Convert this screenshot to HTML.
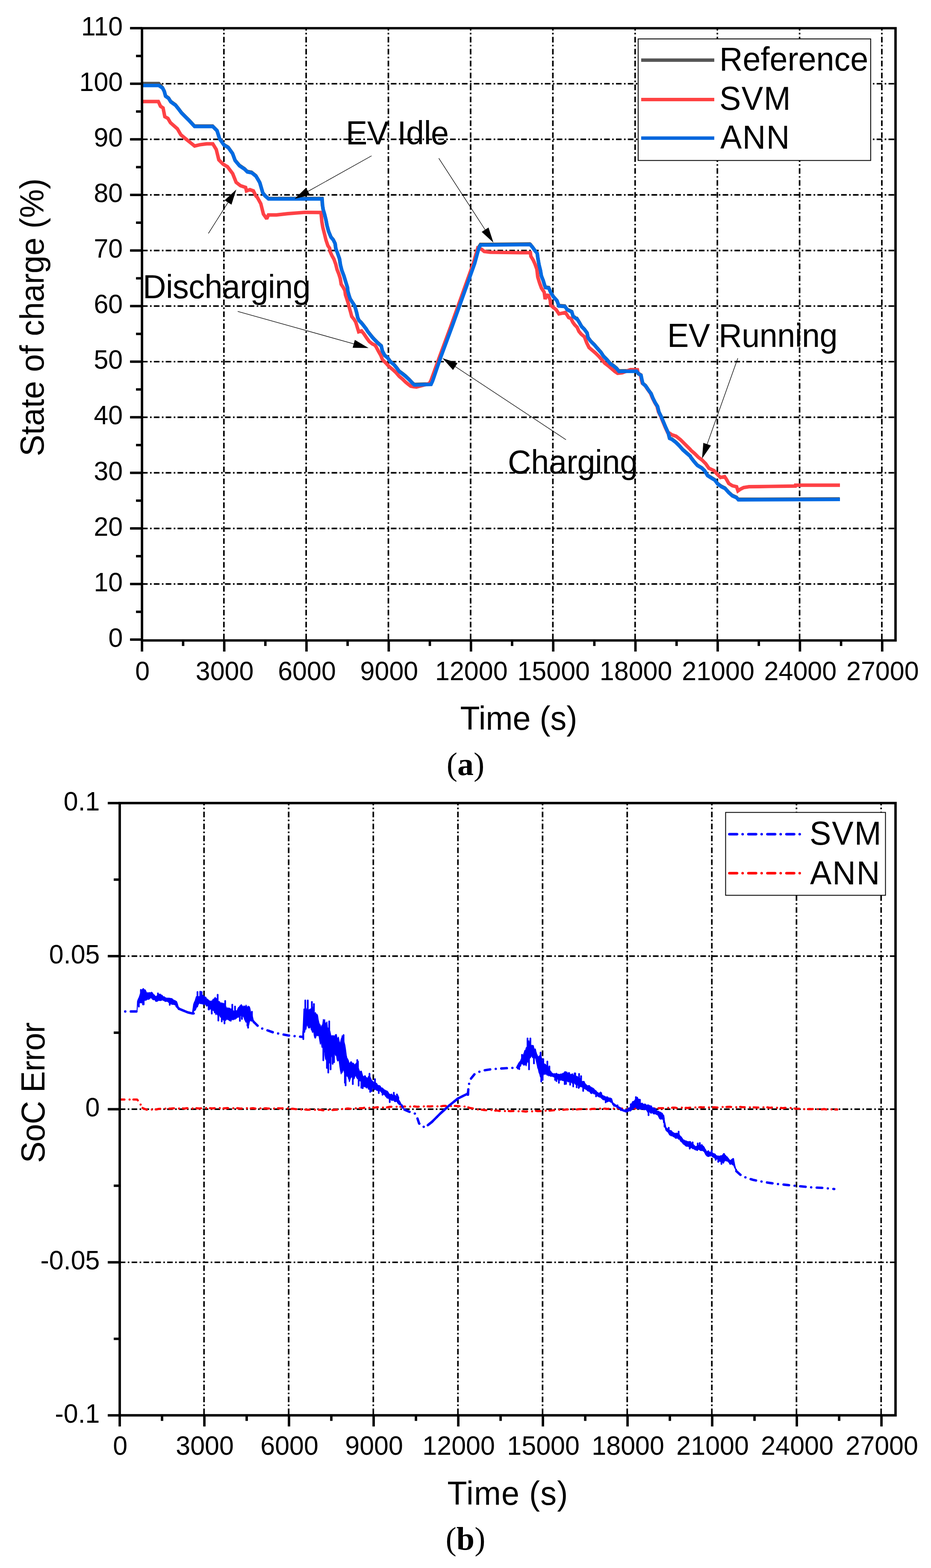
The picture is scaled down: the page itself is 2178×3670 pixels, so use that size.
<!DOCTYPE html>
<html><head><meta charset="utf-8"><title>SoC estimation</title>
<style>html,body{margin:0;padding:0;background:#fff;}svg{display:block;}</style>
</head><body>
<svg width="2178" height="3670" viewBox="0 0 2178 3670">
<rect width="2178" height="3670" fill="#fff"/>
<g stroke="#000" stroke-width="3.7" stroke-dasharray="13.2 5.6 3.7 5.22" fill="none"><line x1="332.2" y1="1366.9" x2="2095.0" y2="1366.9"/><line x1="332.2" y1="1236.8" x2="2095.0" y2="1236.8"/><line x1="332.2" y1="1106.7" x2="2095.0" y2="1106.7"/><line x1="332.2" y1="976.6" x2="2095.0" y2="976.6"/><line x1="332.2" y1="846.5" x2="2095.0" y2="846.5"/><line x1="332.2" y1="716.4" x2="2095.0" y2="716.4"/><line x1="332.2" y1="586.3" x2="2095.0" y2="586.3"/><line x1="332.2" y1="456.2" x2="2095.0" y2="456.2"/><line x1="332.2" y1="326.1" x2="2095.0" y2="326.1"/><line x1="332.2" y1="196.0" x2="2095.0" y2="196.0"/></g>
<g stroke="#000" stroke-width="3.7" stroke-dasharray="13.3 5.65 3.7 5.29" fill="none"><line x1="523.8" y1="1496.5" x2="523.8" y2="66.0"/><line x1="716.2" y1="1496.5" x2="716.2" y2="66.0"/><line x1="908.6" y1="1496.5" x2="908.6" y2="66.0"/><line x1="1101.0" y1="1496.5" x2="1101.0" y2="66.0"/><line x1="1293.4" y1="1496.5" x2="1293.4" y2="66.0"/><line x1="1485.8" y1="1496.5" x2="1485.8" y2="66.0"/><line x1="1678.2" y1="1496.5" x2="1678.2" y2="66.0"/><line x1="1870.6" y1="1496.5" x2="1870.6" y2="66.0"/><line x1="2063.0" y1="1496.5" x2="2063.0" y2="66.0"/></g>
<g fill="none" stroke-width="8.2" stroke-linejoin="miter" stroke-miterlimit="2" stroke-linecap="butt">
<polyline points="332.0,195.5 371.4,195.5 380.0,205.1 384.1,213.2 387.1,224.3 394.2,229.3 399.2,237.4 410.4,245.5 418.4,255.6 424.5,263.7 434.6,273.8 442.7,281.9 454.8,295.0 497.3,295.0 507.4,305.1 513.5,324.3 523.6,338.5 533.7,344.6 543.8,358.7 549.8,374.9 559.9,387.0 572.1,395.1 578.1,401.2 588.2,403.2 598.4,411.3 604.4,421.4 607.6,427.1 614.5,450.8 619.7,457.4 627.8,464.5 753.1,464.5 754.1,478.8 755.7,489.6 758.9,500.4 762.1,513.3 764.8,527.3 768.6,541.3 774.0,554.3 779.4,560.7 783.7,569.4 785.3,581.2 789.1,590.9 793.9,604.9 796.1,619.0 799.3,631.9 804.2,644.8 808.5,658.9 812.8,672.9 813.0,678.9 815.7,689.0 819.0,699.1 823.8,706.5 829.1,714.6 831.8,722.7 834.5,732.8 836.6,742.9 839.9,749.7 845.3,755.1 850.7,761.8 856.8,769.9 860.1,775.3 865.5,782.0 870.9,788.8 877.0,795.5 883.7,802.2 891.6,808.9 894.3,821.0 899.7,831.1 906.5,836.5 913.2,846.0 921.3,852.7 928.0,860.8 933.4,868.2 941.5,874.3 948.2,879.7 957.0,887.8 964.4,895.8 969.1,899.9 1007.9,898.5 1011.5,890.8 1029.7,837.5 1058.0,760.8 1086.3,681.8 1109.9,615.8 1120.0,578.8 1124.2,572.2 1142.4,572.2 1239.4,571.1 1240.3,571.7 1245.7,578.2 1251.1,585.8 1256.5,592.2 1258.1,604.1 1260.8,619.2 1264.0,632.1 1266.2,645.1 1270.5,655.8 1273.7,666.6 1275.9,672.0 1283.4,673.1 1287.7,682.8 1294.2,693.6 1302.8,703.3 1307.1,715.1 1321.1,716.2 1326.5,723.8 1337.3,729.2 1340.6,739.9 1348.1,745.3 1349.5,745.3 1354.9,753.9 1360.3,763.6 1366.8,770.1 1373.2,778.7 1375.4,789.5 1381.8,798.1 1390.5,806.7 1396.9,814.3 1405.6,824.0 1412.0,833.7 1419.6,841.2 1427.1,849.9 1435.8,856.3 1442.2,861.7 1447.6,868.2 1488.6,867.6 1493.8,874.2 1499.2,877.4 1501.4,888.2 1503.5,896.8 1510.0,902.2 1516.5,911.9 1522.9,920.6 1527.2,931.3 1532.6,942.1 1538.0,950.7 1541.3,963.7 1546.6,974.5 1552.0,987.4 1557.4,1000.3 1562.8,1012.2 1566.1,1025.1 1571.4,1027.3 1581.1,1034.8 1588.7,1042.4 1597.3,1052.1 1605.9,1059.6 1614.6,1067.2 1616.0,1070.1 1623.5,1079.8 1631.1,1088.4 1641.8,1094.9 1648.3,1101.3 1654.8,1112.1 1663.4,1117.5 1672.0,1122.9 1678.5,1131.5 1687.1,1138.0 1695.8,1142.3 1704.4,1152.0 1713.0,1159.6 1722.7,1163.9 1727.0,1168.7 1964.5,1167.8" stroke="#515151"/>
<polyline points="332.0,237.6 370.4,237.6 375.5,248.7 381.5,252.8 385.6,273.0 392.7,277.0 398.7,287.1 414.9,301.3 423.0,315.4 435.1,325.5 445.2,333.6 455.3,341.7 467.5,338.7 483.6,336.7 497.8,336.7 505.9,349.8 511.9,374.1 522.0,384.2 532.1,390.2 544.3,406.4 552.4,426.6 562.5,434.7 574.6,438.7 576.6,446.8 584.7,443.8 592.8,446.8 598.9,459.0 602.0,462.0 610.1,476.8 616.2,501.1 624.0,512.0 628.0,503.0 646.5,503.1 672.8,500.1 713.2,497.0 750.8,497.3 751.9,508.0 752.9,518.8 755.1,531.8 758.9,546.8 762.6,561.9 767.0,574.9 771.3,581.3 772.3,588.9 776.7,598.6 781.0,606.1 785.3,618.0 788.5,630.9 792.8,641.7 796.1,652.5 798.2,665.4 802.5,671.9 806.8,680.0 808.1,690.2 811.5,700.3 814.8,710.4 817.5,721.2 820.2,730.6 822.9,740.8 828.3,747.5 832.3,754.2 836.4,767.7 839.1,776.5 845.8,774.4 851.2,781.2 858.0,791.3 864.0,799.4 870.8,804.8 877.5,808.1 880.0,812.1 885.4,822.2 890.8,831.7 894.8,841.8 901.6,848.5 909.6,857.3 917.7,864.0 925.8,871.4 933.9,880.9 942.0,887.6 948.7,894.3 955.5,899.7 960.9,903.8 967.6,905.1 974.3,905.8 1004.4,897.7 1008.5,890.0 1027.0,838.7 1055.3,762.0 1083.6,683.0 1107.2,617.0 1117.5,581.0 1120.6,582.4 1126.7,583.5 1132.8,588.5 1146.9,590.5 1217.7,591.5 1240.8,591.3 1241.9,599.9 1247.3,608.5 1251.6,618.2 1255.9,630.1 1258.0,648.4 1262.3,662.4 1266.7,674.3 1273.1,684.0 1275.3,700.2 1278.5,690.5 1282.8,691.5 1287.1,702.3 1288.2,714.2 1294.7,719.6 1301.2,725.0 1307.6,734.7 1322.7,731.4 1327.0,737.9 1330.3,743.3 1335.7,745.4 1340.0,754.1 1344.3,760.0 1350.0,765.9 1354.3,775.6 1359.7,782.0 1367.3,788.5 1372.6,802.5 1378.0,813.3 1385.6,819.8 1393.1,826.3 1400.7,833.8 1408.2,842.4 1414.7,850.0 1423.3,856.4 1431.9,864.0 1438.4,869.4 1444.9,873.7 1455.7,872.6 1475.1,865.1 1491.2,865.6 1492.8,874.2 1498.2,877.4 1500.4,888.2 1502.5,896.8 1509.0,902.2 1515.5,911.9 1521.9,920.6 1526.2,931.3 1531.6,942.1 1537.0,950.7 1540.3,963.7 1545.6,974.5 1551.0,987.4 1556.4,1000.3 1561.8,1012.2 1565.5,1013.4 1571.9,1017.7 1581.6,1021.0 1592.4,1029.6 1603.2,1040.3 1614.0,1051.1 1616.5,1054.0 1625.1,1061.6 1633.7,1070.2 1642.3,1076.7 1651.0,1085.3 1658.5,1096.1 1670.4,1101.5 1676.8,1109.0 1685.5,1117.6 1695.2,1115.5 1699.5,1121.9 1704.9,1131.6 1713.5,1137.0 1723.2,1139.2 1726.4,1148.9 1731.8,1145.1 1739.4,1141.3 1752.3,1139.2 1800.0,1138.5 1860.5,1137.7 1861.0,1135.6 1965.0,1135.6" stroke="#FE4145"/>
<polyline points="332.0,200.2 371.4,200.2 380.5,206.3 384.6,214.4 387.6,225.5 394.7,230.5 399.7,238.6 410.9,246.7 418.9,256.8 425.0,264.9 435.1,275.0 443.2,283.1 455.3,296.2 497.8,296.2 507.9,306.3 514.0,325.5 524.1,339.7 534.2,345.8 544.3,359.9 550.3,376.1 560.4,388.2 572.6,396.3 578.6,402.4 588.7,404.4 598.9,412.5 604.9,422.6 608.1,428.3 615.0,452.0 620.2,458.6 628.3,465.7 753.6,465.7 754.6,480.0 756.2,490.8 759.4,501.6 762.6,514.5 765.3,528.5 769.1,542.5 774.5,555.5 779.9,561.9 784.2,570.6 785.8,582.4 789.6,592.1 794.4,606.1 796.6,620.2 799.8,633.1 804.7,646.0 809.0,660.1 813.3,674.1 813.5,680.1 816.2,690.2 819.5,700.3 824.3,707.7 829.6,715.8 832.3,723.9 835.0,734.0 837.1,744.1 840.4,750.9 845.8,756.3 851.2,763.0 857.3,771.1 860.6,776.5 866.0,783.2 871.4,790.0 877.5,796.7 884.2,803.4 892.1,810.1 894.8,822.2 900.2,832.3 907.0,837.7 913.7,847.2 921.8,853.9 928.5,862.0 933.9,869.4 942.0,875.5 948.7,880.9 957.5,889.0 964.9,897.0 969.6,901.1 1008.4,899.7 1012.0,892.0 1030.2,838.7 1058.5,762.0 1086.8,683.0 1110.4,617.0 1120.5,580.0 1124.7,573.4 1142.9,573.4 1239.9,572.3 1240.8,572.9 1246.2,579.4 1251.6,587.0 1257.0,593.4 1258.6,605.3 1261.3,620.4 1264.5,633.3 1266.7,646.3 1271.0,657.0 1274.2,667.8 1276.4,673.2 1283.9,674.3 1288.2,684.0 1294.7,694.8 1303.3,704.5 1307.6,716.3 1321.6,717.4 1327.0,725.0 1337.8,730.4 1341.1,741.1 1348.6,746.5 1350.0,746.5 1355.4,755.1 1360.8,764.8 1367.3,771.3 1373.7,779.9 1375.9,790.7 1382.3,799.3 1391.0,807.9 1397.4,815.5 1406.1,825.2 1412.5,834.9 1420.1,842.4 1427.6,851.1 1436.3,857.5 1442.7,862.9 1448.1,869.4 1489.1,868.8 1494.3,875.4 1499.7,878.6 1501.9,889.4 1504.0,898.0 1510.5,903.4 1517.0,913.1 1523.4,921.8 1527.7,932.5 1533.1,943.3 1538.5,951.9 1541.8,964.9 1547.1,975.7 1552.5,988.6 1557.9,1001.5 1563.3,1013.4 1566.6,1026.3 1571.9,1028.5 1581.6,1036.0 1589.2,1043.6 1597.8,1053.3 1606.4,1060.8 1615.1,1068.4 1616.5,1071.3 1624.0,1081.0 1631.6,1089.6 1642.3,1096.1 1648.8,1102.5 1655.3,1113.3 1663.9,1118.7 1672.5,1124.1 1679.0,1132.7 1687.6,1139.2 1696.3,1143.5 1704.9,1153.2 1713.5,1160.8 1723.2,1165.1 1727.5,1169.9 1965.0,1169.0" stroke="#006BE3"/>
</g>
<rect x="1492.9" y="91.1" width="544" height="284.5" fill="#fff" stroke="#000" stroke-width="2"/>
<g stroke-width="8" fill="none"><line x1="1500" y1="140.8" x2="1671" y2="140.8" stroke="#555555"/><line x1="1500" y1="233" x2="1671" y2="233" stroke="#FF4242"/><line x1="1500" y1="323.3" x2="1671" y2="323.3" stroke="#0066DD"/></g>
<g style="font-family:'Liberation Sans',Arial,sans-serif" fill="#000"><text transform="translate(1683.0,165.4) scale(1,1.04)" font-size="75.5">Reference</text><text letter-spacing="1.5" transform="translate(1683.0,256.9) scale(1,1.04)" font-size="75.5">SVM</text><text letter-spacing="1.5" transform="translate(1685.0,348.3) scale(1,1.04)" font-size="75.5">ANN</text></g>
<g stroke="#000" stroke-width="5.7" fill="none" stroke-linecap="butt"><path d="M332.2,1499.0 L332.2,66.0 L2095.0,66.0 L2095.0,1499.0 Z" stroke-linejoin="miter"/><line x1="304.2" y1="1497.0" x2="332.2" y2="1497.0"/><line x1="304.2" y1="1366.9" x2="332.2" y2="1366.9"/><line x1="304.2" y1="1236.8" x2="332.2" y2="1236.8"/><line x1="304.2" y1="1106.7" x2="332.2" y2="1106.7"/><line x1="304.2" y1="976.6" x2="332.2" y2="976.6"/><line x1="304.2" y1="846.5" x2="332.2" y2="846.5"/><line x1="304.2" y1="716.4" x2="332.2" y2="716.4"/><line x1="304.2" y1="586.3" x2="332.2" y2="586.3"/><line x1="304.2" y1="456.2" x2="332.2" y2="456.2"/><line x1="304.2" y1="326.1" x2="332.2" y2="326.1"/><line x1="304.2" y1="196.0" x2="332.2" y2="196.0"/><line x1="304.2" y1="65.9" x2="332.2" y2="65.9"/><line x1="318.2" y1="1432.0" x2="332.2" y2="1432.0"/><line x1="318.2" y1="1301.8" x2="332.2" y2="1301.8"/><line x1="318.2" y1="1171.8" x2="332.2" y2="1171.8"/><line x1="318.2" y1="1041.7" x2="332.2" y2="1041.7"/><line x1="318.2" y1="911.5" x2="332.2" y2="911.5"/><line x1="318.2" y1="781.5" x2="332.2" y2="781.5"/><line x1="318.2" y1="651.4" x2="332.2" y2="651.4"/><line x1="318.2" y1="521.2" x2="332.2" y2="521.2"/><line x1="318.2" y1="391.2" x2="332.2" y2="391.2"/><line x1="318.2" y1="261.0" x2="332.2" y2="261.0"/><line x1="318.2" y1="131.0" x2="332.2" y2="131.0"/><line x1="332.2" y1="1499.0" x2="332.2" y2="1525.0"/><line x1="524.6" y1="1499.0" x2="524.6" y2="1525.0"/><line x1="717.0" y1="1499.0" x2="717.0" y2="1525.0"/><line x1="909.4" y1="1499.0" x2="909.4" y2="1525.0"/><line x1="1101.8" y1="1499.0" x2="1101.8" y2="1525.0"/><line x1="1294.2" y1="1499.0" x2="1294.2" y2="1525.0"/><line x1="1486.6" y1="1499.0" x2="1486.6" y2="1525.0"/><line x1="1679.0" y1="1499.0" x2="1679.0" y2="1525.0"/><line x1="1871.4" y1="1499.0" x2="1871.4" y2="1525.0"/><line x1="2063.8" y1="1499.0" x2="2063.8" y2="1525.0"/><line x1="428.4" y1="1499.0" x2="428.4" y2="1512.0"/><line x1="620.8" y1="1499.0" x2="620.8" y2="1512.0"/><line x1="813.2" y1="1499.0" x2="813.2" y2="1512.0"/><line x1="1005.6" y1="1499.0" x2="1005.6" y2="1512.0"/><line x1="1198.0" y1="1499.0" x2="1198.0" y2="1512.0"/><line x1="1390.4" y1="1499.0" x2="1390.4" y2="1512.0"/><line x1="1582.8" y1="1499.0" x2="1582.8" y2="1512.0"/><line x1="1775.2" y1="1499.0" x2="1775.2" y2="1512.0"/><line x1="1967.6" y1="1499.0" x2="1967.6" y2="1512.0"/></g>
<g style="font-family:'Liberation Sans',Arial,sans-serif" fill="#000"><text transform="translate(287.3,1513.8) scale(1,1.04)" text-anchor="end" font-size="61">0</text><text transform="translate(287.3,1383.7) scale(1,1.04)" text-anchor="end" font-size="61">10</text><text transform="translate(287.3,1253.6) scale(1,1.04)" text-anchor="end" font-size="61">20</text><text transform="translate(287.3,1123.5) scale(1,1.04)" text-anchor="end" font-size="61">30</text><text transform="translate(287.3,993.4) scale(1,1.04)" text-anchor="end" font-size="61">40</text><text transform="translate(287.3,863.3) scale(1,1.04)" text-anchor="end" font-size="61">50</text><text transform="translate(287.3,733.2) scale(1,1.04)" text-anchor="end" font-size="61">60</text><text transform="translate(287.3,603.1) scale(1,1.04)" text-anchor="end" font-size="61">70</text><text transform="translate(287.3,473.0) scale(1,1.04)" text-anchor="end" font-size="61">80</text><text transform="translate(287.3,342.9) scale(1,1.04)" text-anchor="end" font-size="61">90</text><text transform="translate(287.3,212.8) scale(1,1.04)" text-anchor="end" font-size="61">100</text><text transform="translate(287.3,82.7) scale(1,1.04)" text-anchor="end" font-size="61">110</text><text transform="translate(333.2,1591.5) scale(1,1.04)" text-anchor="middle" font-size="61">0</text><text transform="translate(525.6,1591.5) scale(1,1.04)" text-anchor="middle" font-size="61">3000</text><text transform="translate(718.0,1591.5) scale(1,1.04)" text-anchor="middle" font-size="61">6000</text><text transform="translate(910.4,1591.5) scale(1,1.04)" text-anchor="middle" font-size="61">9000</text><text transform="translate(1102.8,1591.5) scale(1,1.04)" text-anchor="middle" font-size="61">12000</text><text transform="translate(1295.2,1591.5) scale(1,1.04)" text-anchor="middle" font-size="61">15000</text><text transform="translate(1487.6,1591.5) scale(1,1.04)" text-anchor="middle" font-size="61">18000</text><text transform="translate(1680.0,1591.5) scale(1,1.04)" text-anchor="middle" font-size="61">21000</text><text transform="translate(1872.4,1591.5) scale(1,1.04)" text-anchor="middle" font-size="61">24000</text><text transform="translate(2064.8,1591.5) scale(1,1.04)" text-anchor="middle" font-size="61">27000</text></g>
<g style="font-family:'Liberation Sans',Arial,sans-serif" fill="#000"><text letter-spacing="-0.4" transform="translate(809.0,338.2) scale(1,1.04)" font-size="75.5">EV Idle</text><text letter-spacing="-0.6" transform="translate(334.0,698.0) scale(1,1.04)" font-size="75.5">Discharging</text><text letter-spacing="-0.3" transform="translate(1188.0,1108.0) scale(1,1.04)" font-size="75.5">Charging</text><text letter-spacing="-0.5" transform="translate(1561.0,812.1) scale(1,1.04)" font-size="75.5">EV Running</text></g>
<g><line x1="869.2" y1="364.8" x2="717.0" y2="449.9" stroke="#000" stroke-width="1.3"/><polygon points="689.1,465.5 715.9,439.6 725.2,456.2" fill="#000"/><line x1="1026.5" y1="370.3" x2="1137.0" y2="541.0" stroke="#000" stroke-width="1.3"/><polygon points="1154.4,567.9 1126.9,542.8 1142.8,532.5" fill="#000"/><line x1="487.5" y1="546.3" x2="535.7" y2="470.4" stroke="#000" stroke-width="1.3"/><polygon points="552.8,443.4 541.5,478.9 525.5,468.7" fill="#000"/><line x1="556.1" y1="728.8" x2="831.4" y2="805.9" stroke="#000" stroke-width="1.3"/><polygon points="862.2,814.5 825.0,813.9 830.1,795.6" fill="#000"/><line x1="1324.1" y1="1029.2" x2="1061.7" y2="855.8" stroke="#000" stroke-width="1.3"/><polygon points="1035.0,838.2 1070.3,850.1 1059.8,866.0" fill="#000"/><line x1="1726.0" y1="838.5" x2="1653.0" y2="1043.4" stroke="#000" stroke-width="1.3"/><polygon points="1642.3,1073.5 1645.4,1036.4 1663.3,1042.8" fill="#000"/></g>
<g style="font-family:'Liberation Sans',Arial,sans-serif" fill="#000"><text transform="translate(102.3,1068.0) rotate(-90) scale(1,1.04)" font-size="75.5">State of charge (%)</text></g>
<g style="font-family:'Liberation Sans',Arial,sans-serif" fill="#000"><text transform="translate(1213.5,1708.2) scale(1,1.04)" text-anchor="middle" font-size="75.5">Time (s)</text></g>
<text x="1089" y="1813.5" text-anchor="middle" style="font-family:'Liberation Serif','Times New Roman',serif;font-size:76px" fill="#000">(<tspan font-weight="bold">a</tspan>)</text>
<g stroke="#000" stroke-width="3.7" stroke-dasharray="13.2 5.6 3.7 5.22" fill="none"><line x1="280.1" y1="2237.9" x2="2095.0" y2="2237.9"/><line x1="280.1" y1="2596.2" x2="2095.0" y2="2596.2"/><line x1="280.1" y1="2954.5" x2="2095.0" y2="2954.5"/></g>
<g stroke="#000" stroke-width="3.7" stroke-dasharray="13.3 5.65 3.7 5.29" fill="none"><line x1="477.3" y1="3310.0" x2="477.3" y2="1879.7"/><line x1="675.3" y1="3310.0" x2="675.3" y2="1879.7"/><line x1="873.3" y1="3310.0" x2="873.3" y2="1879.7"/><line x1="1071.3" y1="3310.0" x2="1071.3" y2="1879.7"/><line x1="1269.3" y1="3310.0" x2="1269.3" y2="1879.7"/><line x1="1467.3" y1="3310.0" x2="1467.3" y2="1879.7"/><line x1="1665.3" y1="3310.0" x2="1665.3" y2="1879.7"/><line x1="1863.3" y1="3310.0" x2="1863.3" y2="1879.7"/><line x1="2061.3" y1="3310.0" x2="2061.3" y2="1879.7"/></g>
<g fill="none" stroke-width="5" stroke-linecap="round" stroke-linejoin="round" stroke-dasharray="11 12 0.01 9">
<polyline points="280.1,2573.6 320.5,2573.6 323.9,2577.0 334.0,2593.8 347.5,2598.8 353.5,2597.3 359.5,2596.5 365.5,2596.8 371.0,2595.5 377.0,2595.2 383.0,2594.9 389.0,2594.7 395.0,2594.7 401.0,2594.6 407.0,2594.1 413.0,2595.1 419.0,2594.4 425.0,2594.0 431.0,2594.8 437.0,2593.7 443.0,2593.9 449.0,2594.7 455.0,2593.5 461.0,2593.9 467.0,2594.4 472.0,2593.8 478.0,2594.3 484.0,2593.3 490.0,2593.6 496.0,2594.2 502.0,2593.7 508.0,2594.6 514.0,2593.5 520.0,2594.7 526.0,2594.0 532.0,2593.5 538.0,2593.9 544.0,2593.4 550.0,2594.4 556.0,2593.7 562.0,2594.7 568.0,2594.2 574.0,2593.9 580.0,2593.7 586.0,2594.3 592.0,2593.7 598.0,2594.8 604.0,2593.6 610.0,2594.2 616.0,2594.3 622.0,2593.9 628.0,2594.7 634.0,2594.1 640.0,2594.6 646.0,2594.4 652.0,2594.0 658.0,2594.2 664.0,2593.7 670.0,2593.9 674.0,2594.4 680.0,2595.4 686.0,2595.1 692.0,2596.1 698.0,2595.7 704.0,2596.9 708.0,2597.1 714.0,2597.0 720.0,2597.4 726.0,2597.3 732.0,2597.1 738.0,2597.6 744.0,2597.6 750.0,2597.6 756.0,2598.7 760.0,2598.5 766.0,2597.8 772.0,2597.6 778.0,2598.1 784.0,2597.5 790.0,2597.3 796.0,2596.9 802.0,2595.4 808.0,2595.2 814.0,2594.5 820.0,2595.2 826.0,2594.8 832.0,2593.9 838.0,2593.6 844.0,2593.7 850.0,2593.4 851.0,2593.0 857.0,2592.4 863.0,2593.2 869.0,2592.3 875.0,2592.6 881.0,2591.7 887.0,2591.5 893.0,2592.6 899.0,2592.1 905.0,2592.0 911.0,2590.7 917.0,2590.6 923.0,2590.6 929.0,2590.5 935.0,2590.5 941.0,2590.5 947.0,2589.8 952.0,2590.4 958.0,2590.0 964.0,2590.4 970.0,2589.6 976.0,2590.5 982.0,2590.0 988.0,2590.1 994.0,2589.3 1000.0,2589.5 1006.0,2589.8 1012.0,2589.1 1018.0,2588.5 1024.0,2589.7 1030.0,2589.5 1036.0,2588.6 1042.0,2588.2 1048.0,2589.4 1053.0,2588.7 1059.0,2589.1 1065.0,2588.4 1071.0,2589.0 1077.0,2589.0 1083.0,2590.3 1087.0,2590.0 1093.0,2590.8 1099.0,2593.2 1105.0,2594.3 1111.0,2594.5 1117.0,2596.8 1120.0,2597.1 1126.0,2597.2 1132.0,2598.1 1138.0,2598.5 1144.0,2597.9 1150.0,2597.9 1156.0,2599.6 1162.0,2599.1 1168.0,2600.2 1174.0,2600.1 1180.0,2600.5 1186.0,2600.9 1188.0,2600.5 1194.0,2600.8 1200.0,2600.6 1206.0,2600.0 1212.0,2601.1 1218.0,2600.8 1224.0,2601.0 1230.0,2601.8 1236.0,2600.6 1240.0,2601.2 1246.0,2601.3 1252.0,2599.9 1258.0,2600.7 1264.0,2600.6 1270.0,2599.4 1276.0,2599.6 1282.0,2600.0 1288.0,2599.2 1294.0,2598.8 1300.0,2598.0 1306.0,2597.4 1312.0,2597.6 1318.0,2597.5 1324.0,2596.8 1330.0,2596.7 1331.0,2597.0 1337.0,2596.3 1343.0,2597.0 1349.0,2596.8 1355.0,2596.0 1361.0,2595.9 1367.0,2596.2 1373.0,2595.9 1379.0,2596.6 1385.0,2595.5 1391.0,2595.3 1397.0,2596.0 1403.0,2594.7 1409.0,2595.2 1415.0,2594.7 1421.0,2595.4 1427.0,2594.8 1432.0,2594.6 1438.0,2595.0 1444.0,2594.0 1450.0,2594.8 1456.0,2594.7 1462.0,2594.5 1468.0,2595.0 1474.0,2595.0 1480.0,2593.9 1486.0,2594.2 1492.0,2594.3 1498.0,2594.0 1504.0,2593.8 1510.0,2594.1 1516.0,2593.9 1522.0,2594.7 1528.0,2594.3 1533.0,2594.4 1539.0,2593.6 1545.0,2593.8 1551.0,2593.8 1557.0,2593.5 1563.0,2593.0 1567.0,2593.4 1573.0,2592.6 1579.0,2592.4 1585.0,2593.8 1591.0,2593.3 1597.0,2592.1 1603.0,2593.0 1609.0,2593.3 1615.0,2592.5 1621.0,2591.7 1627.0,2592.1 1633.0,2591.9 1639.0,2591.4 1645.0,2591.9 1651.0,2590.9 1654.0,2591.6 1660.0,2592.2 1666.0,2591.8 1672.0,2591.7 1678.0,2592.2 1684.0,2591.7 1690.0,2591.0 1696.0,2591.0 1702.0,2590.8 1708.0,2590.6 1714.0,2591.7 1720.0,2591.8 1726.0,2590.9 1732.0,2590.7 1735.0,2591.2 1741.0,2591.5 1747.0,2591.9 1753.0,2592.1 1759.0,2591.0 1765.0,2592.1 1771.0,2592.3 1777.0,2592.2 1783.0,2591.6 1789.0,2592.0 1795.0,2591.7 1801.0,2592.9 1807.0,2592.2 1813.0,2592.5 1819.0,2592.9 1825.0,2592.8 1831.0,2593.7 1837.0,2592.9 1843.0,2593.5 1849.0,2593.1 1855.0,2594.3 1861.0,2594.7 1867.0,2595.3 1870.0,2595.0 1876.0,2595.5 1882.0,2596.0 1888.0,2596.3 1894.0,2595.7 1900.0,2595.9 1906.0,2595.5 1910.0,2596.2 1916.0,2596.0 1922.0,2596.5 1928.0,2595.8 1934.0,2596.9 1940.0,2596.2 1946.0,2596.7 1952.0,2597.6 1958.0,2596.3 1958.5,2597.0" stroke="#FF0000"/>
</g>
<g fill="none" stroke="#0000FF" stroke-width="5.6" stroke-linecap="round" stroke-linejoin="round" stroke-dasharray="13 13 0.01 13">
<polyline points="280.1,2367.4 320.5,2367.4" stroke-dashoffset="13.1"/>
<polyline points="418.6,2361.0 429.4,2365.5 440.2,2369.8 449.9,2372.0"/>
<polyline points="593.5,2391.6 606.9,2405.1 640.6,2416.9 674.3,2423.6 708.0,2427.0"/>
<polyline points="946.2,2597.2 960.3,2603.3 970.4,2606.3 976.5,2617.5 980.5,2629.6 990.6,2637.7 1000.8,2633.6 1010.9,2625.5 1031.1,2605.3 1051.3,2587.1 1071.5,2571.0 1091.7,2560.9 1094.7,2562.0 1095.8,2546.7 1097.8,2534.6 1101.8,2524.5 1109.9,2514.4 1122.0,2508.3 1132.1,2505.3 1152.4,2502.2 1182.7,2500.2 1208.0,2499.0"/>
<polyline points="1722.6,2741.2 1734.8,2752.0 1748.2,2757.4 1761.7,2761.5 1788.7,2766.8 1815.6,2770.9 1842.6,2773.6 1869.5,2776.3 1896.5,2779.0 1923.5,2780.3 1951.7,2783.0"/>
</g>
<polyline fill="none" stroke="#0000FF" stroke-width="5.6" stroke-linecap="round" stroke-linejoin="round" points="413.2,2355 418.6,2361 429.4,2365.5 440.2,2369.8 449.9,2372 453,2372"/>
<polyline fill="none" stroke="#0000FF" stroke-width="5.6" stroke-linecap="round" stroke-linejoin="round" points="1000.8,2633.6 1010.9,2625.5 1031.1,2605.3 1051.3,2587.1 1071.5,2571 1091.7,2560.9 1094.7,2562 1094.7,2557"/>
<g fill="#0000FF" stroke="#0000FF" stroke-width="2" stroke-linejoin="round">
<polygon points="320.5,2367.4 321.6,2343.9 323.2,2339.0 324.8,2335.9 326.4,2332.0 328.0,2326.5 329.6,2323.9 331.2,2318.0 331.3,2319.1 332.9,2316.1 334.5,2314.0 336.1,2314.1 336.7,2317.0 338.3,2316.3 339.9,2317.2 341.5,2320.4 343.1,2324.0 344.7,2323.9 346.3,2323.2 347.9,2325.2 349.5,2322.7 351.1,2324.5 352.7,2323.4 353.9,2322.3 355.5,2322.9 357.1,2324.5 358.7,2327.7 360.3,2328.1 361.9,2330.1 363.5,2332.0 364.7,2332.6 366.3,2331.9 367.9,2329.8 369.5,2328.0 371.1,2327.0 372.7,2327.6 374.3,2326.8 374.4,2326.4 376.0,2328.1 377.6,2329.0 379.2,2329.5 380.8,2331.7 382.4,2333.0 384.0,2332.9 385.6,2334.2 386.3,2334.6 387.9,2335.9 389.5,2336.4 391.1,2335.7 392.7,2337.3 394.3,2335.9 395.9,2336.1 397.0,2337.2 398.6,2336.5 400.2,2337.4 401.8,2336.9 403.4,2338.6 405.0,2340.1 406.6,2340.7 407.8,2341.8 409.4,2341.8 411.0,2343.0 412.6,2343.9 413.2,2344.2 414.8,2348.9 416.4,2354.3 418.0,2359.2 418.6,2361.0 418.6,2361.0 418.0,2360.0 416.4,2357.4 414.8,2355.9 413.2,2353.3 412.6,2353.6 411.0,2352.9 409.4,2352.3 407.8,2351.2 406.6,2350.7 405.0,2350.9 403.4,2350.7 401.8,2350.5 400.2,2349.7 398.6,2348.4 397.0,2349.0 395.9,2347.3 394.3,2346.0 392.7,2344.3 391.1,2343.8 389.5,2343.8 387.9,2343.6 386.3,2344.3 385.6,2342.6 384.0,2342.2 382.4,2341.7 380.8,2340.7 379.2,2340.3 377.6,2341.4 376.0,2341.7 374.4,2341.5 374.3,2342.1 372.7,2341.4 371.1,2341.3 369.5,2342.5 367.9,2343.6 366.3,2343.8 364.7,2343.9 363.5,2342.3 361.9,2339.6 360.3,2339.7 358.7,2340.3 357.1,2338.9 355.5,2337.5 353.9,2334.8 352.7,2335.5 351.1,2336.3 349.5,2338.1 347.9,2338.8 346.3,2339.4 344.7,2337.6 343.1,2340.1 341.5,2341.1 339.9,2341.4 338.3,2340.4 336.7,2344.4 336.1,2344.1 334.5,2344.7 332.9,2345.1 331.3,2347.6 331.2,2344.2 329.6,2346.8 328.0,2347.3 326.4,2346.7 324.8,2348.9 323.2,2352.0 321.6,2353.9 320.5,2367.4"/>
<polygon points="449.9,2372.0 451.5,2360.9 453.0,2350.5 454.6,2346.0 456.2,2343.0 457.8,2337.7 459.4,2332.4 461.0,2333.6 462.0,2332.4 463.6,2331.8 465.2,2333.6 466.8,2331.7 468.4,2332.8 470.0,2333.0 471.6,2330.0 472.0,2328.6 473.6,2329.2 475.2,2329.7 476.8,2332.1 478.4,2332.5 480.0,2334.0 481.6,2334.0 483.2,2337.9 484.8,2338.3 486.4,2339.5 488.0,2341.1 489.0,2343.5 490.6,2342.4 492.2,2344.2 493.8,2343.1 495.4,2342.6 497.0,2342.2 498.6,2338.4 500.2,2338.8 501.8,2337.0 503.4,2334.2 505.0,2339.0 506.0,2336.6 507.6,2339.0 509.2,2343.0 510.8,2344.4 512.4,2343.6 514.0,2345.2 515.6,2346.9 517.2,2350.2 518.8,2346.9 520.4,2349.2 522.0,2348.4 523.6,2348.6 525.2,2353.1 526.8,2354.1 528.4,2355.5 529.0,2357.6 530.6,2360.5 532.2,2359.0 533.8,2359.6 535.4,2359.5 537.0,2359.8 538.6,2361.5 540.2,2361.2 541.8,2361.8 543.4,2362.2 545.0,2365.5 546.6,2366.2 548.2,2367.9 549.8,2369.5 550.0,2366.4 551.6,2365.2 553.2,2366.2 554.8,2365.8 556.4,2361.3 558.0,2358.0 559.6,2357.5 561.2,2354.6 562.8,2353.4 564.4,2351.3 566.0,2353.2 567.6,2355.5 569.2,2357.8 570.8,2354.1 572.4,2355.8 574.0,2356.5 575.6,2352.4 577.2,2356.4 578.8,2359.8 580.4,2354.7 582.0,2358.9 583.0,2355.7 584.6,2359.7 586.2,2368.0 587.8,2372.9 589.4,2374.5 590.0,2376.1 591.6,2383.3 593.2,2390.2 593.5,2391.6 593.5,2391.6 593.2,2391.5 591.6,2390.5 590.0,2390.0 589.4,2390.1 587.8,2390.0 586.2,2388.2 584.6,2388.9 583.0,2393.7 582.0,2399.4 580.4,2395.8 578.8,2392.4 577.2,2389.5 575.6,2392.8 574.0,2389.7 572.4,2386.5 570.8,2381.8 569.2,2378.8 567.6,2375.7 566.0,2374.1 564.4,2375.1 562.8,2377.3 561.2,2375.8 559.6,2378.9 558.0,2380.6 556.4,2381.2 554.8,2380.7 553.2,2383.3 551.6,2384.0 550.0,2384.0 549.8,2386.2 548.2,2383.3 546.6,2386.3 545.0,2387.0 543.4,2385.4 541.8,2386.4 540.2,2390.3 538.6,2388.9 537.0,2389.2 535.4,2387.0 533.8,2387.1 532.2,2385.1 530.6,2385.9 529.0,2384.5 528.4,2388.2 526.8,2388.1 525.2,2388.6 523.6,2388.4 522.0,2386.4 520.4,2385.0 518.8,2382.3 517.2,2380.1 515.6,2380.8 514.0,2376.9 512.4,2372.8 510.8,2375.8 509.2,2376.0 507.6,2373.6 506.0,2371.7 505.0,2375.0 503.4,2368.9 501.8,2370.7 500.2,2364.8 498.6,2365.0 497.0,2364.1 495.4,2366.5 493.8,2362.8 492.2,2361.1 490.6,2361.5 489.0,2358.2 488.0,2355.3 486.4,2354.8 484.8,2353.7 483.2,2355.1 481.6,2352.5 480.0,2349.7 478.4,2349.8 476.8,2351.3 475.2,2351.0 473.6,2348.8 472.0,2346.8 471.6,2349.6 470.0,2349.0 468.4,2348.9 466.8,2346.4 465.2,2349.2 463.6,2351.5 462.0,2356.8 461.0,2355.8 459.4,2358.5 457.8,2362.5 456.2,2365.0 454.6,2365.1 453.0,2367.5 451.5,2370.3 449.9,2372.0"/>
<polygon points="708.0,2427.0 709.6,2394.9 711.0,2361.4 712.6,2367.6 714.2,2367.6 715.8,2369.3 717.4,2362.0 719.0,2358.3 720.0,2356.3 721.6,2363.8 723.2,2364.1 724.8,2362.0 726.4,2362.1 728.0,2360.6 729.6,2357.4 731.2,2356.5 732.8,2365.6 734.4,2364.6 735.0,2372.2 736.6,2370.2 738.2,2370.2 739.8,2374.4 741.4,2373.8 743.0,2376.9 744.6,2387.6 746.2,2394.1 747.8,2398.2 749.4,2399.2 750.0,2403.1 751.6,2404.8 753.2,2399.6 754.8,2398.7 756.4,2386.0 758.0,2389.8 759.6,2386.3 760.0,2390.7 761.6,2396.5 763.2,2395.1 764.8,2391.9 766.4,2408.9 768.0,2406.1 769.6,2413.0 770.2,2413.6 771.8,2413.3 773.4,2420.9 775.0,2429.1 776.6,2423.4 778.2,2426.1 779.8,2423.5 781.4,2425.7 783.0,2425.5 783.7,2423.1 785.3,2421.6 786.9,2421.3 788.5,2430.0 790.1,2430.7 791.7,2427.5 793.3,2435.9 794.9,2443.4 796.5,2439.7 798.1,2432.1 799.7,2428.4 800.5,2424.0 802.1,2431.5 803.7,2433.9 805.3,2440.2 806.9,2446.5 808.5,2457.0 810.1,2469.5 811.7,2476.6 813.3,2478.6 814.9,2482.1 816.5,2487.5 817.4,2489.1 819.0,2488.1 820.6,2484.9 822.2,2485.2 823.8,2491.6 825.4,2487.9 827.0,2489.1 828.6,2490.9 830.2,2494.0 831.8,2490.4 833.4,2488.7 834.2,2487.6 835.8,2491.0 837.4,2494.5 839.0,2501.6 840.6,2506.0 842.2,2509.9 843.8,2507.3 845.4,2507.1 847.0,2512.7 848.6,2518.2 850.2,2520.0 851.1,2521.6 852.7,2517.9 854.3,2517.8 855.9,2521.1 857.5,2522.4 859.1,2523.4 860.7,2524.7 861.2,2520.6 862.8,2518.7 864.4,2518.6 866.0,2521.5 867.6,2524.7 869.2,2528.6 870.8,2530.1 872.4,2531.2 874.0,2532.9 875.6,2533.1 877.2,2534.2 878.0,2532.6 879.6,2535.7 881.2,2535.8 882.8,2539.1 884.4,2540.5 886.0,2540.7 887.6,2540.8 889.2,2541.9 890.8,2544.3 892.4,2546.5 894.0,2546.6 894.9,2546.6 896.5,2548.4 898.1,2550.1 899.7,2551.1 901.3,2551.6 902.9,2553.5 904.5,2553.1 906.1,2554.3 907.7,2556.0 909.3,2559.2 910.9,2560.5 911.7,2562.1 913.3,2561.8 914.9,2561.0 916.5,2560.8 918.1,2563.6 919.7,2564.6 921.3,2564.0 922.9,2562.8 924.5,2564.1 926.1,2565.8 927.7,2566.1 928.6,2565.7 930.2,2569.6 931.8,2573.7 933.4,2575.4 935.0,2577.4 936.6,2580.6 938.2,2583.8 938.7,2584.9 940.3,2587.4 941.9,2590.2 943.5,2592.9 945.1,2595.4 946.2,2597.2 946.2,2597.2 945.1,2595.8 943.5,2593.6 941.9,2591.4 940.3,2589.4 938.7,2587.1 938.2,2587.0 936.6,2585.8 935.0,2585.9 933.4,2584.8 931.8,2583.1 930.2,2581.5 928.6,2577.6 927.7,2578.0 926.1,2578.1 924.5,2578.7 922.9,2578.0 921.3,2574.9 919.7,2575.6 918.1,2575.2 916.5,2575.9 914.9,2573.9 913.3,2572.8 911.7,2574.2 910.9,2573.3 909.3,2571.1 907.7,2569.9 906.1,2570.6 904.5,2568.6 902.9,2566.8 901.3,2564.8 899.7,2562.2 898.1,2561.6 896.5,2559.7 894.9,2558.5 894.0,2557.1 892.4,2557.3 890.8,2554.6 889.2,2553.5 887.6,2553.3 886.0,2553.0 884.4,2552.8 882.8,2552.7 881.2,2552.0 879.6,2550.2 878.0,2549.1 877.2,2550.3 875.6,2551.0 874.0,2549.2 872.4,2546.2 870.8,2542.7 869.2,2543.6 867.6,2544.7 866.0,2548.2 864.4,2547.9 862.8,2550.0 861.2,2548.2 860.7,2545.9 859.1,2544.0 857.5,2546.7 855.9,2545.3 854.3,2541.9 852.7,2543.9 851.1,2543.0 850.2,2540.6 848.6,2536.3 847.0,2533.3 845.4,2531.5 843.8,2530.6 842.2,2529.5 840.6,2529.9 839.0,2524.4 837.4,2525.9 835.8,2524.3 834.2,2522.0 833.4,2519.2 831.8,2516.4 830.2,2519.5 828.6,2524.6 827.0,2526.0 825.4,2524.3 823.8,2518.1 822.2,2521.2 820.6,2521.6 819.0,2526.4 817.4,2531.8 816.5,2527.1 814.9,2523.3 813.3,2518.3 811.7,2519.2 810.1,2512.3 808.5,2509.7 806.9,2515.5 805.3,2509.4 803.7,2501.6 802.1,2505.8 800.5,2510.6 799.7,2504.5 798.1,2513.6 796.5,2505.8 794.9,2495.5 793.3,2482.3 791.7,2481.7 790.1,2483.5 788.5,2479.8 786.9,2468.9 785.3,2470.5 783.7,2465.6 783.0,2462.5 781.4,2470.8 779.8,2473.2 778.2,2477.5 776.6,2472.8 775.0,2471.5 773.4,2477.6 771.8,2487.1 770.2,2488.2 769.6,2479.2 768.0,2485.9 766.4,2473.7 764.8,2482.6 763.2,2481.1 761.6,2479.0 760.0,2469.0 759.6,2463.9 758.0,2459.3 756.4,2455.1 754.8,2450.2 753.2,2451.5 751.6,2439.2 750.0,2438.5 749.4,2443.9 747.8,2434.7 746.2,2424.6 744.6,2423.3 743.0,2424.5 741.4,2422.5 739.8,2424.4 738.2,2429.7 736.6,2429.4 735.0,2423.7 734.4,2418.3 732.8,2410.7 731.2,2416.7 729.6,2412.1 728.0,2409.4 726.4,2401.3 724.8,2405.0 723.2,2406.5 721.6,2405.5 720.0,2401.3 719.0,2398.6 717.4,2399.8 715.8,2409.0 714.2,2408.8 712.6,2416.5 711.0,2415.3 709.6,2416.9 708.0,2427.0"/>
<polygon points="1208.0,2499.0 1209.6,2495.8 1211.2,2492.8 1212.8,2489.5 1214.4,2487.1 1214.7,2486.3 1216.3,2485.0 1217.9,2482.5 1219.5,2478.2 1221.1,2476.8 1221.4,2474.0 1223.0,2471.4 1224.6,2468.1 1226.2,2463.8 1227.8,2458.4 1229.4,2459.3 1230.9,2452.5 1232.5,2450.5 1234.1,2451.8 1235.7,2442.6 1237.3,2435.7 1237.6,2438.1 1239.2,2440.9 1240.8,2444.7 1242.4,2449.1 1244.0,2447.0 1244.3,2446.3 1245.9,2447.3 1247.5,2446.9 1249.1,2453.1 1250.7,2456.5 1252.3,2458.6 1252.4,2455.0 1254.0,2461.8 1255.6,2467.1 1257.2,2470.1 1257.8,2472.9 1259.4,2473.3 1261.0,2472.2 1262.6,2470.6 1264.2,2471.0 1264.6,2468.9 1266.2,2473.8 1267.8,2481.5 1269.4,2486.4 1271.0,2491.2 1271.3,2491.9 1272.9,2489.9 1274.5,2490.9 1276.1,2491.1 1277.7,2493.9 1279.3,2494.1 1280.5,2492.7 1282.1,2496.8 1283.7,2501.9 1285.3,2502.4 1286.9,2506.7 1288.5,2507.5 1290.1,2510.4 1290.6,2511.2 1292.2,2512.0 1293.8,2513.2 1295.4,2513.5 1297.0,2512.7 1298.6,2513.8 1300.2,2512.8 1301.8,2511.9 1303.4,2513.7 1305.0,2513.9 1306.6,2514.3 1307.5,2514.5 1309.1,2515.4 1310.7,2513.7 1312.3,2514.1 1313.9,2513.5 1315.5,2513.8 1317.1,2511.7 1318.7,2511.7 1320.3,2510.7 1321.0,2508.7 1322.6,2508.0 1324.2,2510.0 1325.8,2508.7 1327.4,2512.6 1329.0,2511.3 1330.6,2510.4 1332.2,2510.5 1333.8,2514.9 1335.4,2515.1 1337.0,2514.6 1337.8,2513.7 1339.4,2513.3 1341.0,2516.3 1342.6,2517.9 1344.2,2519.4 1345.8,2520.6 1347.4,2518.3 1349.0,2519.6 1350.6,2519.4 1352.2,2521.7 1353.8,2523.3 1354.7,2524.6 1356.3,2522.9 1357.9,2526.6 1359.5,2529.7 1361.1,2532.4 1362.7,2531.0 1364.3,2531.5 1364.8,2530.9 1366.4,2531.0 1368.0,2534.8 1369.6,2537.4 1371.2,2538.6 1372.8,2540.5 1374.4,2541.4 1376.0,2541.1 1377.6,2540.8 1379.2,2541.1 1380.8,2544.0 1381.6,2543.7 1383.2,2544.8 1384.8,2546.2 1386.4,2546.3 1388.0,2547.5 1389.6,2548.8 1391.2,2551.2 1392.8,2552.1 1394.4,2553.1 1396.0,2555.6 1397.6,2556.5 1398.5,2557.7 1400.1,2558.6 1401.7,2558.1 1403.3,2559.1 1404.9,2560.1 1406.5,2561.9 1408.1,2562.3 1409.7,2563.8 1411.3,2564.7 1412.9,2564.9 1414.5,2566.9 1415.3,2566.2 1416.9,2567.8 1418.5,2567.5 1420.0,2567.1 1421.6,2567.4 1423.2,2569.1 1424.8,2570.8 1426.4,2569.6 1428.0,2570.2 1429.6,2570.7 1431.0,2571.8 1432.6,2577.2 1433.5,2580.9 1435.1,2581.9 1436.7,2583.5 1438.3,2584.2 1439.9,2585.9 1441.5,2586.6 1443.1,2587.4 1444.7,2588.9 1446.0,2589.8 1447.6,2590.3 1449.2,2591.5 1450.8,2592.1 1452.4,2593.5 1454.0,2594.7 1455.6,2595.8 1457.2,2596.7 1458.8,2597.4 1460.0,2597.9 1461.6,2597.6 1463.2,2597.9 1464.8,2596.9 1466.0,2597.4 1467.6,2595.4 1469.2,2594.1 1470.8,2593.0 1472.4,2593.2 1474.0,2592.1 1474.0,2591.8 1475.6,2589.3 1477.2,2584.4 1478.8,2580.7 1480.0,2578.2 1481.6,2578.0 1483.2,2577.3 1484.8,2575.9 1486.0,2573.4 1487.6,2573.5 1489.2,2573.3 1490.8,2576.8 1492.4,2578.5 1494.0,2580.3 1495.5,2579.3 1497.1,2580.0 1498.7,2582.0 1500.3,2582.8 1501.9,2581.8 1503.5,2582.9 1505.0,2585.2 1506.6,2584.4 1508.2,2583.9 1509.8,2584.2 1511.4,2586.0 1513.0,2587.9 1514.0,2586.4 1515.6,2585.9 1517.2,2586.2 1518.8,2587.0 1520.4,2588.4 1522.0,2588.1 1523.6,2588.8 1524.0,2588.4 1525.6,2592.3 1527.2,2593.7 1528.8,2592.4 1530.4,2595.2 1532.0,2594.1 1533.6,2594.7 1534.6,2597.1 1536.2,2599.0 1537.8,2600.5 1539.4,2600.9 1541.0,2600.9 1542.6,2602.9 1544.2,2602.7 1545.0,2602.9 1546.6,2604.5 1548.2,2604.7 1549.8,2606.6 1551.4,2609.5 1553.0,2611.3 1553.0,2611.1 1554.6,2623.9 1555.0,2626.7 1556.6,2632.8 1558.0,2639.3 1559.6,2640.2 1561.2,2641.8 1562.8,2643.7 1564.4,2644.0 1566.0,2645.0 1567.6,2646.5 1568.2,2646.2 1569.8,2646.0 1571.4,2647.7 1573.0,2649.6 1574.6,2650.7 1576.2,2651.5 1577.8,2652.7 1578.0,2652.6 1579.6,2652.8 1581.2,2652.5 1582.8,2652.1 1584.4,2653.1 1586.0,2652.1 1587.6,2652.8 1588.5,2654.4 1590.1,2657.2 1591.7,2659.5 1593.3,2660.6 1594.9,2662.7 1596.5,2665.0 1598.0,2667.7 1599.6,2667.9 1601.2,2669.1 1602.8,2670.8 1604.4,2669.9 1606.0,2670.9 1607.6,2672.2 1608.7,2671.8 1610.3,2671.8 1611.9,2673.4 1613.5,2671.4 1614.0,2671.8 1615.6,2672.3 1617.2,2675.1 1618.8,2677.7 1620.4,2678.6 1622.0,2678.7 1623.6,2680.5 1625.2,2682.1 1626.8,2684.0 1627.0,2684.0 1628.6,2683.2 1630.2,2682.8 1631.8,2681.4 1632.3,2680.5 1633.9,2681.6 1635.5,2680.0 1637.1,2680.4 1638.7,2679.7 1640.3,2680.5 1641.9,2678.5 1643.0,2680.6 1644.6,2682.3 1646.2,2683.4 1647.8,2686.1 1649.4,2689.3 1651.0,2691.4 1652.6,2694.8 1654.0,2697.6 1655.6,2698.0 1657.2,2697.5 1658.8,2696.9 1660.4,2696.3 1662.0,2697.0 1663.6,2697.9 1664.7,2697.5 1666.3,2697.5 1667.9,2699.5 1669.5,2700.0 1671.1,2700.4 1672.7,2700.9 1674.3,2703.1 1675.5,2704.6 1677.1,2705.2 1678.7,2705.5 1680.3,2706.0 1681.9,2705.6 1683.0,2707.6 1684.6,2705.7 1686.2,2705.0 1687.8,2705.1 1689.4,2704.8 1691.0,2702.7 1692.6,2700.0 1692.7,2700.2 1694.3,2699.8 1695.9,2703.5 1697.5,2704.2 1699.1,2706.9 1700.3,2706.9 1701.9,2708.9 1703.5,2710.7 1705.1,2713.1 1706.7,2715.0 1707.8,2716.0 1709.4,2715.9 1711.0,2714.5 1712.6,2713.1 1714.2,2711.9 1715.8,2711.4 1716.0,2711.4 1717.6,2720.2 1719.0,2727.2 1720.6,2733.3 1722.2,2739.7 1722.6,2741.2 1722.6,2741.2 1722.2,2740.4 1720.6,2737.0 1719.0,2733.5 1717.6,2731.0 1716.0,2726.1 1715.8,2726.9 1714.2,2726.6 1712.6,2724.8 1711.0,2724.4 1709.4,2725.0 1707.8,2725.2 1706.7,2723.4 1705.1,2720.3 1703.5,2719.3 1701.9,2717.7 1700.3,2716.3 1699.1,2717.7 1697.5,2715.8 1695.9,2716.6 1694.3,2718.7 1692.7,2722.4 1692.6,2722.6 1691.0,2721.5 1689.4,2718.6 1687.8,2716.0 1686.2,2717.2 1684.6,2718.9 1683.0,2717.3 1681.9,2716.2 1680.3,2714.2 1678.7,2713.0 1677.1,2712.8 1675.5,2712.0 1674.3,2711.6 1672.7,2710.0 1671.1,2710.6 1669.5,2708.9 1667.9,2707.8 1666.3,2707.2 1664.7,2704.5 1663.6,2705.0 1662.0,2705.9 1660.4,2705.5 1658.8,2706.5 1657.2,2707.0 1655.6,2706.5 1654.0,2705.8 1652.6,2704.3 1651.0,2702.5 1649.4,2699.4 1647.8,2696.0 1646.2,2694.8 1644.6,2693.3 1643.0,2691.9 1641.9,2693.3 1640.3,2692.2 1638.7,2693.0 1637.1,2691.4 1635.5,2691.0 1633.9,2690.1 1632.3,2690.7 1631.8,2693.0 1630.2,2692.3 1628.6,2691.3 1627.0,2691.6 1626.8,2691.2 1625.2,2690.7 1623.6,2688.9 1622.0,2688.8 1620.4,2688.7 1618.8,2686.9 1617.2,2685.5 1615.6,2687.0 1614.0,2685.3 1613.5,2684.1 1611.9,2683.8 1610.3,2683.2 1608.7,2683.2 1607.6,2682.5 1606.0,2683.2 1604.4,2682.1 1602.8,2680.8 1601.2,2679.0 1599.6,2678.4 1598.0,2677.3 1596.5,2674.6 1594.9,2673.1 1593.3,2672.2 1591.7,2670.4 1590.1,2667.0 1588.5,2665.6 1587.6,2666.7 1586.0,2664.6 1584.4,2663.6 1582.8,2663.9 1581.2,2664.6 1579.6,2663.5 1578.0,2661.9 1577.8,2661.3 1576.2,2660.9 1574.6,2660.4 1573.0,2658.1 1571.4,2658.4 1569.8,2658.6 1568.2,2656.5 1567.6,2656.9 1566.0,2655.6 1564.4,2652.5 1562.8,2649.8 1561.2,2648.7 1559.6,2647.1 1558.0,2645.8 1556.6,2641.3 1555.0,2634.4 1554.6,2631.2 1553.0,2620.8 1553.0,2621.5 1551.4,2621.9 1549.8,2618.9 1548.2,2619.0 1546.6,2619.5 1545.0,2619.6 1544.2,2619.2 1542.6,2617.3 1541.0,2613.7 1539.4,2610.5 1537.8,2609.3 1536.2,2608.7 1534.6,2607.2 1533.6,2607.5 1532.0,2606.4 1530.4,2607.6 1528.8,2607.0 1527.2,2605.2 1525.6,2604.3 1524.0,2604.4 1523.6,2605.9 1522.0,2605.2 1520.4,2602.6 1518.8,2602.5 1517.2,2602.0 1515.6,2603.5 1514.0,2600.8 1513.0,2598.8 1511.4,2597.4 1509.8,2596.9 1508.2,2597.4 1506.6,2597.8 1505.0,2596.6 1503.5,2595.8 1501.9,2595.9 1500.3,2596.3 1498.7,2595.3 1497.1,2596.7 1495.5,2594.9 1494.0,2595.2 1492.4,2594.5 1490.8,2594.8 1489.2,2594.3 1487.6,2591.3 1486.0,2590.2 1484.8,2593.3 1483.2,2592.7 1481.6,2595.5 1480.0,2596.1 1478.8,2595.0 1477.2,2597.9 1475.6,2600.3 1474.0,2600.4 1474.0,2598.9 1472.4,2599.6 1470.8,2601.1 1469.2,2600.9 1467.6,2602.2 1466.0,2602.6 1464.8,2602.7 1463.2,2602.7 1461.6,2601.7 1460.0,2601.5 1458.8,2601.1 1457.2,2600.4 1455.6,2599.9 1454.0,2598.6 1452.4,2597.2 1450.8,2596.6 1449.2,2595.4 1447.6,2594.9 1446.0,2593.5 1444.7,2592.2 1443.1,2591.7 1441.5,2590.2 1439.9,2589.9 1438.3,2588.6 1436.7,2588.1 1435.1,2586.9 1433.5,2585.6 1432.6,2583.6 1431.0,2579.8 1429.6,2580.3 1428.0,2579.0 1426.4,2578.2 1424.8,2577.2 1423.2,2577.7 1421.6,2578.7 1420.0,2579.1 1418.5,2578.2 1416.9,2575.8 1415.3,2574.2 1414.5,2574.7 1412.9,2574.0 1411.3,2574.3 1409.7,2572.9 1408.1,2571.0 1406.5,2570.3 1404.9,2568.0 1403.3,2568.0 1401.7,2567.6 1400.1,2566.8 1398.5,2565.6 1397.6,2565.1 1396.0,2563.9 1394.4,2562.1 1392.8,2560.9 1391.2,2560.5 1389.6,2560.5 1388.0,2558.9 1386.4,2558.2 1384.8,2558.8 1383.2,2559.8 1381.6,2558.2 1380.8,2557.0 1379.2,2554.5 1377.6,2554.5 1376.0,2553.4 1374.4,2553.3 1372.8,2550.8 1371.2,2550.1 1369.6,2549.0 1368.0,2548.3 1366.4,2547.3 1364.8,2546.1 1364.3,2545.1 1362.7,2544.7 1361.1,2544.2 1359.5,2543.3 1357.9,2542.5 1356.3,2544.7 1354.7,2543.3 1353.8,2541.3 1352.2,2540.2 1350.6,2536.9 1349.0,2535.7 1347.4,2536.9 1345.8,2537.9 1344.2,2534.5 1342.6,2535.2 1341.0,2535.4 1339.4,2535.7 1337.8,2534.4 1337.0,2533.0 1335.4,2530.7 1333.8,2530.8 1332.2,2530.3 1330.6,2532.3 1329.0,2532.3 1327.4,2530.5 1325.8,2529.9 1324.2,2528.2 1322.6,2529.5 1321.0,2527.2 1320.3,2529.1 1318.7,2529.6 1317.1,2529.3 1315.5,2529.1 1313.9,2527.0 1312.3,2528.2 1310.7,2528.2 1309.1,2527.8 1307.5,2526.6 1306.6,2527.7 1305.0,2525.9 1303.4,2525.4 1301.8,2525.5 1300.2,2522.4 1298.6,2522.6 1297.0,2521.4 1295.4,2520.0 1293.8,2520.3 1292.2,2518.7 1290.6,2518.6 1290.1,2519.0 1288.5,2519.5 1286.9,2517.6 1285.3,2517.7 1283.7,2518.4 1282.1,2514.7 1280.5,2517.0 1279.3,2515.7 1277.7,2513.1 1276.1,2514.2 1274.5,2514.6 1272.9,2514.3 1271.3,2513.2 1271.0,2516.5 1269.4,2512.2 1267.8,2515.9 1266.2,2517.6 1264.6,2519.6 1264.2,2520.8 1262.6,2513.7 1261.0,2510.5 1259.4,2502.8 1257.8,2499.1 1257.2,2495.4 1255.6,2488.4 1254.0,2480.8 1252.4,2474.8 1252.3,2476.6 1250.7,2475.1 1249.1,2475.9 1247.5,2475.1 1245.9,2475.8 1244.3,2470.9 1244.0,2471.6 1242.4,2472.7 1240.8,2475.7 1239.2,2476.7 1237.6,2479.7 1237.3,2479.8 1235.7,2486.6 1234.1,2483.3 1232.5,2487.7 1230.9,2494.8 1229.4,2492.0 1227.8,2490.6 1226.2,2493.5 1224.6,2492.5 1223.0,2490.8 1221.4,2488.8 1221.1,2488.0 1219.5,2490.7 1217.9,2495.3 1216.3,2496.3 1214.7,2496.6 1214.4,2496.8 1212.8,2498.2 1211.2,2497.7 1209.6,2498.5 1208.0,2499.0"/>
</g>
<g stroke="#0000FF" stroke-width="4" stroke-linecap="round">
<line x1="324.8" y1="2345.9" x2="324.8" y2="2356.0"/>
<line x1="329.6" y1="2316.7" x2="329.6" y2="2326.9"/>
<line x1="334.5" y1="2341.7" x2="334.5" y2="2351.1"/>
<line x1="336.1" y1="2341.1" x2="336.1" y2="2351.0"/>
<line x1="369.5" y1="2325.0" x2="369.5" y2="2331.0"/>
<line x1="397.0" y1="2346.0" x2="397.0" y2="2352.0"/>
<line x1="418.0" y1="2358.8" x2="418.0" y2="2362.2"/>
<line x1="462.0" y1="2321.7" x2="462.0" y2="2335.4"/>
<line x1="468.4" y1="2320.9" x2="468.4" y2="2335.8"/>
<line x1="471.6" y1="2321.8" x2="471.6" y2="2333.0"/>
<line x1="488.0" y1="2352.3" x2="488.0" y2="2362.8"/>
<line x1="489.0" y1="2355.2" x2="489.0" y2="2362.8"/>
<line x1="495.4" y1="2363.5" x2="495.4" y2="2372.6"/>
<line x1="509.2" y1="2328.2" x2="509.2" y2="2346.0"/>
<line x1="510.8" y1="2372.8" x2="510.8" y2="2388.8"/>
<line x1="518.8" y1="2379.3" x2="518.8" y2="2390.8"/>
<line x1="525.2" y1="2385.6" x2="525.2" y2="2395.5"/>
<line x1="526.8" y1="2342.7" x2="526.8" y2="2357.1"/>
<line x1="543.4" y1="2351.5" x2="543.4" y2="2365.2"/>
<line x1="549.8" y1="2355.7" x2="549.8" y2="2372.5"/>
<line x1="561.2" y1="2372.8" x2="561.2" y2="2389.4"/>
<line x1="566.0" y1="2371.1" x2="566.0" y2="2385.1"/>
<line x1="578.8" y1="2389.4" x2="578.8" y2="2400.8"/>
<line x1="580.4" y1="2392.8" x2="580.4" y2="2405.4"/>
<line x1="589.4" y1="2368.1" x2="589.4" y2="2377.5"/>
<line x1="593.2" y1="2389.8" x2="593.2" y2="2393.2"/>
<line x1="709.6" y1="2413.9" x2="709.6" y2="2432.3"/>
<line x1="714.2" y1="2341.5" x2="714.2" y2="2370.6"/>
<line x1="720.0" y1="2341.5" x2="720.0" y2="2359.3"/>
<line x1="729.6" y1="2345.0" x2="729.6" y2="2360.4"/>
<line x1="734.4" y1="2349.9" x2="734.4" y2="2367.6"/>
<line x1="756.4" y1="2452.1" x2="756.4" y2="2481.8"/>
<line x1="764.8" y1="2479.6" x2="764.8" y2="2499.8"/>
<line x1="768.0" y1="2482.9" x2="768.0" y2="2510.4"/>
<line x1="770.2" y1="2390.6" x2="770.2" y2="2416.6"/>
<line x1="773.4" y1="2474.6" x2="773.4" y2="2503.1"/>
<line x1="778.2" y1="2474.5" x2="778.2" y2="2490.0"/>
<line x1="781.4" y1="2467.8" x2="781.4" y2="2486.3"/>
<line x1="803.7" y1="2422.4" x2="803.7" y2="2436.9"/>
<line x1="806.9" y1="2512.5" x2="806.9" y2="2534.3"/>
<line x1="808.5" y1="2506.7" x2="808.5" y2="2540.5"/>
<line x1="825.4" y1="2521.3" x2="825.4" y2="2537.4"/>
<line x1="835.8" y1="2481.0" x2="835.8" y2="2494.0"/>
<line x1="837.4" y1="2484.5" x2="837.4" y2="2497.5"/>
<line x1="839.0" y1="2521.4" x2="839.0" y2="2540.9"/>
<line x1="845.4" y1="2528.5" x2="845.4" y2="2546.1"/>
<line x1="848.6" y1="2533.3" x2="848.6" y2="2547.1"/>
<line x1="864.4" y1="2512.9" x2="864.4" y2="2521.6"/>
<line x1="866.0" y1="2545.2" x2="866.0" y2="2555.7"/>
<line x1="869.2" y1="2540.6" x2="869.2" y2="2553.7"/>
<line x1="877.2" y1="2525.8" x2="877.2" y2="2537.2"/>
<line x1="886.0" y1="2550.0" x2="886.0" y2="2558.6"/>
<line x1="894.9" y1="2555.5" x2="894.9" y2="2562.5"/>
<line x1="911.7" y1="2571.2" x2="911.7" y2="2579.8"/>
<line x1="921.3" y1="2557.4" x2="921.3" y2="2567.0"/>
<line x1="928.6" y1="2561.4" x2="928.6" y2="2568.7"/>
<line x1="930.2" y1="2564.4" x2="930.2" y2="2572.6"/>
<line x1="931.8" y1="2567.9" x2="931.8" y2="2576.7"/>
<line x1="940.3" y1="2586.4" x2="940.3" y2="2590.4"/>
<line x1="941.9" y1="2589.6" x2="941.9" y2="2593.2"/>
<line x1="1211.2" y1="2494.7" x2="1211.2" y2="2500.9"/>
<line x1="1214.7" y1="2493.6" x2="1214.7" y2="2502.6"/>
<line x1="1221.1" y1="2468.8" x2="1221.1" y2="2479.8"/>
<line x1="1234.1" y1="2430.4" x2="1234.1" y2="2454.8"/>
<line x1="1237.6" y1="2476.7" x2="1237.6" y2="2503.1"/>
<line x1="1240.8" y1="2430.5" x2="1240.8" y2="2447.7"/>
<line x1="1249.1" y1="2472.9" x2="1249.1" y2="2489.0"/>
<line x1="1264.6" y1="2463.5" x2="1264.6" y2="2471.9"/>
<line x1="1266.2" y1="2514.6" x2="1266.2" y2="2531.4"/>
<line x1="1269.4" y1="2509.2" x2="1269.4" y2="2527.7"/>
<line x1="1271.0" y1="2478.7" x2="1271.0" y2="2494.2"/>
<line x1="1280.5" y1="2484.6" x2="1280.5" y2="2495.7"/>
<line x1="1285.3" y1="2496.0" x2="1285.3" y2="2505.4"/>
<line x1="1298.6" y1="2519.6" x2="1298.6" y2="2527.8"/>
<line x1="1301.8" y1="2522.5" x2="1301.8" y2="2530.4"/>
<line x1="1307.5" y1="2523.6" x2="1307.5" y2="2534.4"/>
<line x1="1321.0" y1="2524.2" x2="1321.0" y2="2537.6"/>
<line x1="1324.2" y1="2525.2" x2="1324.2" y2="2537.1"/>
<line x1="1333.8" y1="2527.8" x2="1333.8" y2="2538.9"/>
<line x1="1341.0" y1="2532.4" x2="1341.0" y2="2543.0"/>
<line x1="1344.2" y1="2512.2" x2="1344.2" y2="2522.4"/>
<line x1="1345.8" y1="2512.2" x2="1345.8" y2="2523.6"/>
<line x1="1349.0" y1="2532.7" x2="1349.0" y2="2545.1"/>
<line x1="1353.8" y1="2538.3" x2="1353.8" y2="2546.5"/>
<line x1="1354.7" y1="2513.5" x2="1354.7" y2="2527.6"/>
<line x1="1359.5" y1="2518.8" x2="1359.5" y2="2532.7"/>
<line x1="1364.3" y1="2542.1" x2="1364.3" y2="2553.6"/>
<line x1="1394.4" y1="2559.1" x2="1394.4" y2="2566.3"/>
<line x1="1404.9" y1="2557.0" x2="1404.9" y2="2563.1"/>
<line x1="1406.5" y1="2558.6" x2="1406.5" y2="2564.9"/>
<line x1="1416.9" y1="2572.8" x2="1416.9" y2="2580.3"/>
<line x1="1436.7" y1="2585.1" x2="1436.7" y2="2588.5"/>
<line x1="1444.7" y1="2587.1" x2="1444.7" y2="2591.9"/>
<line x1="1452.4" y1="2594.2" x2="1452.4" y2="2598.6"/>
<line x1="1475.6" y1="2584.6" x2="1475.6" y2="2592.3"/>
<line x1="1487.6" y1="2567.8" x2="1487.6" y2="2576.5"/>
<line x1="1490.8" y1="2569.2" x2="1490.8" y2="2579.8"/>
<line x1="1494.0" y1="2573.2" x2="1494.0" y2="2583.3"/>
<line x1="1497.1" y1="2573.9" x2="1497.1" y2="2583.0"/>
<line x1="1517.2" y1="2599.0" x2="1517.2" y2="2610.2"/>
<line x1="1553.0" y1="2617.8" x2="1553.0" y2="2626.9"/>
<line x1="1554.6" y1="2628.2" x2="1554.6" y2="2637.1"/>
<line x1="1564.4" y1="2639.4" x2="1564.4" y2="2647.0"/>
<line x1="1587.6" y1="2648.5" x2="1587.6" y2="2655.8"/>
<line x1="1613.5" y1="2681.1" x2="1613.5" y2="2688.5"/>
<line x1="1620.4" y1="2673.7" x2="1620.4" y2="2681.6"/>
<line x1="1632.3" y1="2676.3" x2="1632.3" y2="2683.5"/>
<line x1="1637.1" y1="2675.3" x2="1637.1" y2="2683.4"/>
<line x1="1655.6" y1="2695.4" x2="1655.6" y2="2701.0"/>
<line x1="1657.2" y1="2694.3" x2="1657.2" y2="2700.5"/>
<line x1="1664.7" y1="2693.2" x2="1664.7" y2="2700.5"/>
<line x1="1674.3" y1="2708.6" x2="1674.3" y2="2714.7"/>
<line x1="1680.3" y1="2711.2" x2="1680.3" y2="2719.6"/>
<line x1="1687.8" y1="2713.0" x2="1687.8" y2="2724.4"/>
<line x1="1722.2" y1="2737.4" x2="1722.2" y2="2740.6"/>
</g>
<rect x="1697.5" y="1901.5" width="374" height="194" fill="#fff" stroke="#000" stroke-width="2"/>
<g stroke-width="6" fill="none" stroke-linecap="round" stroke-dasharray="18 13 0.01 13.5"><line x1="1706.3" y1="1952.4" x2="1872.2" y2="1952.4" stroke="#0000FF"/><line x1="1706.3" y1="2043.7" x2="1872.2" y2="2043.7" stroke="#FF0000"/></g>
<g style="font-family:'Liberation Sans',Arial,sans-serif" fill="#000"><text letter-spacing="2" transform="translate(1894.0,1977.1) scale(1,1.04)" font-size="75.5">SVM</text><text letter-spacing="2" transform="translate(1895.0,2069.8) scale(1,1.04)" font-size="75.5">ANN</text></g>
<g stroke="#000" stroke-width="5.7" fill="none" stroke-linecap="butt"><path d="M280.1,3312.7 L280.1,1879.7 L2095.0,1879.7 L2095.0,3312.7 Z" stroke-linejoin="miter"/><line x1="252.1" y1="1879.7" x2="280.1" y2="1879.7"/><line x1="252.1" y1="2237.9" x2="280.1" y2="2237.9"/><line x1="252.1" y1="2596.2" x2="280.1" y2="2596.2"/><line x1="252.1" y1="2954.5" x2="280.1" y2="2954.5"/><line x1="252.1" y1="3312.7" x2="280.1" y2="3312.7"/><line x1="266.1" y1="2058.8" x2="280.1" y2="2058.8"/><line x1="266.1" y1="2417.1" x2="280.1" y2="2417.1"/><line x1="266.1" y1="2775.3" x2="280.1" y2="2775.3"/><line x1="266.1" y1="3133.6" x2="280.1" y2="3133.6"/><line x1="280.1" y1="3312.7" x2="280.1" y2="3338.7"/><line x1="478.1" y1="3312.7" x2="478.1" y2="3338.7"/><line x1="676.1" y1="3312.7" x2="676.1" y2="3338.7"/><line x1="874.1" y1="3312.7" x2="874.1" y2="3338.7"/><line x1="1072.1" y1="3312.7" x2="1072.1" y2="3338.7"/><line x1="1270.1" y1="3312.7" x2="1270.1" y2="3338.7"/><line x1="1468.1" y1="3312.7" x2="1468.1" y2="3338.7"/><line x1="1666.1" y1="3312.7" x2="1666.1" y2="3338.7"/><line x1="1864.1" y1="3312.7" x2="1864.1" y2="3338.7"/><line x1="2062.1" y1="3312.7" x2="2062.1" y2="3338.7"/><line x1="379.1" y1="3312.7" x2="379.1" y2="3325.7"/><line x1="577.1" y1="3312.7" x2="577.1" y2="3325.7"/><line x1="775.1" y1="3312.7" x2="775.1" y2="3325.7"/><line x1="973.1" y1="3312.7" x2="973.1" y2="3325.7"/><line x1="1171.1" y1="3312.7" x2="1171.1" y2="3325.7"/><line x1="1369.1" y1="3312.7" x2="1369.1" y2="3325.7"/><line x1="1567.1" y1="3312.7" x2="1567.1" y2="3325.7"/><line x1="1765.1" y1="3312.7" x2="1765.1" y2="3325.7"/><line x1="1963.1" y1="3312.7" x2="1963.1" y2="3325.7"/></g>
<g style="font-family:'Liberation Sans',Arial,sans-serif" fill="#000"><text transform="translate(233.5,1896.5) scale(1,1.04)" text-anchor="end" font-size="61">0.1</text><text transform="translate(233.5,2254.8) scale(1,1.04)" text-anchor="end" font-size="61">0.05</text><text transform="translate(233.5,2613.0) scale(1,1.04)" text-anchor="end" font-size="61">0</text><text transform="translate(233.5,2971.3) scale(1,1.04)" text-anchor="end" font-size="61">-0.05</text><text transform="translate(233.5,3329.5) scale(1,1.04)" text-anchor="end" font-size="61">-0.1</text><text transform="translate(281.1,3405.0) scale(1,1.04)" text-anchor="middle" font-size="61">0</text><text transform="translate(479.1,3405.0) scale(1,1.04)" text-anchor="middle" font-size="61">3000</text><text transform="translate(677.1,3405.0) scale(1,1.04)" text-anchor="middle" font-size="61">6000</text><text transform="translate(875.1,3405.0) scale(1,1.04)" text-anchor="middle" font-size="61">9000</text><text transform="translate(1073.1,3405.0) scale(1,1.04)" text-anchor="middle" font-size="61">12000</text><text transform="translate(1271.1,3405.0) scale(1,1.04)" text-anchor="middle" font-size="61">15000</text><text transform="translate(1469.1,3405.0) scale(1,1.04)" text-anchor="middle" font-size="61">18000</text><text transform="translate(1667.1,3405.0) scale(1,1.04)" text-anchor="middle" font-size="61">21000</text><text transform="translate(1865.1,3405.0) scale(1,1.04)" text-anchor="middle" font-size="61">24000</text><text transform="translate(2063.1,3405.0) scale(1,1.04)" text-anchor="middle" font-size="61">27000</text></g>
<g style="font-family:'Liberation Sans',Arial,sans-serif" fill="#000"><text letter-spacing="-0.8" transform="translate(104.0,2722.0) rotate(-90) scale(1,1.04)" font-size="75.5">SoC Error</text></g>
<g style="font-family:'Liberation Sans',Arial,sans-serif" fill="#000"><text letter-spacing="1.1" transform="translate(1188.0,3521.9) scale(1,1.04)" text-anchor="middle" font-size="75.5">Time (s)</text></g>
<text x="1089" y="3627.4" text-anchor="middle" style="font-family:'Liberation Serif','Times New Roman',serif;font-size:76px" fill="#000">(<tspan font-weight="bold">b</tspan>)</text>
</svg>
</body></html>
